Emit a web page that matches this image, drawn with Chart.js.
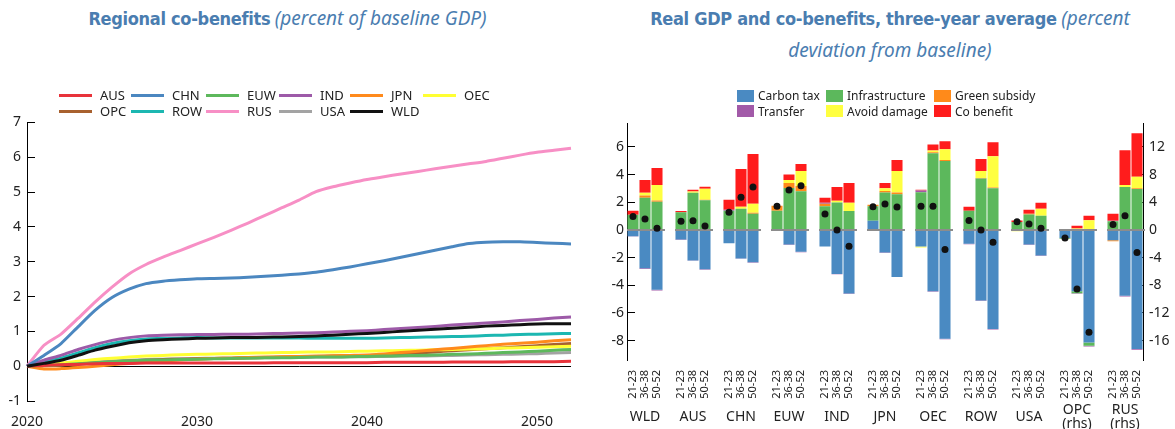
<!DOCTYPE html>
<html>
<head>
<meta charset="utf-8">
<script src="https://cdn.jsdelivr.net/npm/chart.js@4.4.1/dist/chart.umd.min.js"></script>
<style>
  body { margin:0; width:1175px; height:429px; background:#fff; position:relative; overflow:hidden; font-family:"Noto Sans", sans-serif; color:#222; }
  .title { position:absolute; top:3px; text-align:center; color:#4a7db0; line-height:30px; font-family:"DejaVu Sans Condensed","Noto Sans",sans-serif; font-stretch:condensed; }
  .title b { font-size:18px; letter-spacing:-0.3px; }
  .title i { font-size:19px; font-family:"Noto Sans",sans-serif; font-stretch:normal; }
  #t1 { left:0; width:575px; }
  #t2 { left:600px; width:580px; }
  .box { position:absolute; }
  #b1 { left:0; top:100px; width:585px; height:329px; }
  #b2 { left:585px; top:103px; width:590px; height:326px; }
  .leg { position:absolute; display:grid; line-height:15.5px; z-index:2; }
  #leg1 { left:59px; top:88px; font-size:13px; grid-template-columns:72px 75px 73px 71px 73px 72px; }
  #leg2 { left:737px; top:88px; font-size:12px; grid-template-columns:89px 108px 110px; }
  .leg span { display:flex; align-items:center; white-space:nowrap; }
  .leg i { display:inline-block; flex:none; }
</style>
</head>
<body>
<div class="title" id="t1"><b>Regional co-benefits</b> <i>(percent of baseline GDP)</i></div>
<div class="title" id="t2"><b>Real GDP and co-benefits, three-year average</b> <i>(percent<br>deviation from baseline)</i></div>
<div class="box" id="b1"><canvas id="lines"></canvas></div>
<div class="box" id="b2"><canvas id="bars"></canvas></div>
<div class="leg" id="leg1"></div>
<div class="leg" id="leg2"></div>
<script>
// ---- left panel: co-benefits by region, percent of baseline GDP
const years = [2020,2021,2022,2023,2024,2025,2026,2027,2028,2029,2030,2031,2032,2033,2034,2035,2036,
  2037,2038,2039,2040,2041,2042,2043,2044,2045,2046,2047,2048,2049,2050,2051,2052];

const AUS = [0,0.02,0.04,0.05,0.07,0.08,0.08,0.09,0.09,0.09,0.09,0.09,0.09,0.09,0.09,0.10,0.10,0.10,0.10,0.10,0.10,0.11,0.11,0.11,0.11,0.12,0.12,0.12,0.12,0.13,0.13,0.13,0.14];
const CHN = [0,0.31,0.65,1.13,1.60,1.97,2.21,2.37,2.44,2.48,2.51,2.52,2.53,2.55,2.58,2.61,2.65,2.70,2.77,2.85,2.94,3.03,3.13,3.23,3.33,3.43,3.52,3.56,3.57,3.57,3.55,3.53,3.51];
const EUW = [0,0.02,0.04,0.07,0.10,0.13,0.15,0.17,0.18,0.19,0.20,0.21,0.22,0.23,0.24,0.24,0.25,0.26,0.26,0.27,0.28,0.29,0.30,0.31,0.32,0.34,0.35,0.37,0.39,0.41,0.43,0.46,0.48];
const IND = [0,0.17,0.31,0.48,0.62,0.74,0.82,0.87,0.89,0.90,0.91,0.91,0.92,0.92,0.93,0.94,0.95,0.96,0.98,1.00,1.02,1.05,1.08,1.11,1.14,1.18,1.21,1.24,1.27,1.31,1.34,1.38,1.41];
const JPN = [0,-0.08,-0.07,-0.04,0.00,0.04,0.08,0.12,0.15,0.18,0.20,0.22,0.23,0.25,0.26,0.27,0.28,0.29,0.30,0.31,0.32,0.35,0.39,0.43,0.47,0.51,0.55,0.59,0.63,0.66,0.69,0.73,0.76];
const OEC = [0,0.04,0.09,0.14,0.19,0.23,0.26,0.29,0.31,0.33,0.34,0.35,0.36,0.37,0.38,0.39,0.40,0.41,0.41,0.42,0.43,0.44,0.45,0.46,0.47,0.48,0.49,0.50,0.52,0.53,0.54,0.56,0.57];
const OPC = [0,0.01,0.03,0.06,0.09,0.12,0.15,0.17,0.19,0.20,0.21,0.22,0.23,0.24,0.25,0.26,0.27,0.28,0.29,0.30,0.31,0.33,0.35,0.38,0.41,0.44,0.47,0.50,0.53,0.56,0.59,0.62,0.65];
const ROW = [0,0.12,0.23,0.38,0.53,0.65,0.73,0.78,0.80,0.81,0.82,0.81,0.81,0.81,0.81,0.81,0.81,0.80,0.80,0.80,0.80,0.81,0.82,0.83,0.84,0.85,0.86,0.88,0.89,0.91,0.92,0.93,0.94];
const RUS = [0,0.60,0.92,1.37,1.84,2.27,2.65,2.92,3.13,3.32,3.51,3.70,3.90,4.11,4.33,4.55,4.77,5.01,5.15,5.26,5.36,5.44,5.52,5.59,5.67,5.74,5.81,5.88,5.97,6.06,6.14,6.20,6.26];
const USA = [0,0.03,0.06,0.09,0.12,0.15,0.17,0.19,0.20,0.21,0.22,0.23,0.23,0.24,0.24,0.25,0.25,0.26,0.26,0.27,0.27,0.28,0.29,0.29,0.30,0.31,0.32,0.33,0.34,0.35,0.36,0.38,0.39];
const WLD = [0,0.08,0.17,0.31,0.46,0.57,0.67,0.73,0.76,0.78,0.80,0.81,0.82,0.82,0.83,0.84,0.85,0.87,0.89,0.92,0.94,0.97,1.00,1.03,1.06,1.09,1.12,1.15,1.17,1.19,1.21,1.22,1.22];

const lineSeries = [
  ["AUS", AUS, "#e8333b"], ["CHN", CHN, "#4b87c0"], ["EUW", EUW, "#5db85c"],
  ["IND", IND, "#9d5aa8"], ["JPN", JPN, "#ff8a1c"], ["OEC", OEC, "#ffff33"],
  ["OPC", OPC, "#a8612f"], ["ROW", ROW, "#1cb7b1"], ["RUS", RUS, "#f78fc5"],
  ["USA", USA, "#a3a3a3"], ["WLD", WLD, "#111111"]
];

// ---- right panel: three-year averages, percent deviation from baseline
const regions = ["WLD","AUS","CHN","EUW","IND","JPN","OEC","ROW","USA","OPC","RUS"];
const periods = ["21-23","36-38","50-52"];
const rhsRegions = ["OPC","RUS"];

const carbonTax = [-0.45,-2.77,-4.33, -0.70,-2.20,-2.85, -0.96,-2.06,-2.34, 0,-1.06,-1.58, -1.20,-3.18,-4.60, 0.67,-1.63,-3.40,
  -1.20,-4.43,-7.87, -1.00,-5.10,-7.16, 0,-1.06,-1.85, -1.15,-8.85,-16.27, -1.48,-9.52,-17.20];
const infrastructure = [1.10,2.32,2.03, 1.27,2.68,2.15, 1.39,1.53,1.17, 1.39,3.04,2.80, 1.72,1.99,1.36, 1.05,2.70,2.58,
  2.73,5.55,4.98, 1.39,3.71,3.01, 0.57,1.12,1.03, -0.14,-0.29,-0.48, 1.24,6.22,5.93];
const greenSubsidy = [0,0.17,0.10, 0,0,0.04, 0,0,0.07, 0.36,0.36,0.38, 0.17,0,0, 0.10,0.12,0.12,
  0,0.07,0.07, 0,0.05,0.05, 0,0.05,0, 0,0,0, -0.15,0,0.10];
const transfer = [-0.03,-0.05,-0.05, -0.02,-0.03,-0.03, 0.07,-0.03,-0.03, 0,-0.03,-0.03, 0.07,-0.03,-0.03, 0,-0.04,0,
  0.12,-0.03,-0.03, -0.03,-0.04,-0.04, 0,-0.03,-0.03, 0.10,-0.10,-0.10, 0.10,-0.10,-0.12];
const avoidDamage = [0,0.19,1.12, 0,0.10,0.79, 0,0.14,0.65, 0,0.21,1.08, 0,0.12,0.60, 0,0.19,1.56,
  -0.07,0.12,0.79, 0,0.50,2.27, -0.10,0,0.50, 0,0.19,1.39, 0,0.29,1.67];
const coBenefit = [0.29,0.93,1.22, 0.09,0.12,0.14, 0.72,2.73,3.59, -0.07,0.39,0.50, 0.36,1.00,1.44, -0.07,0.39,0.79,
  0.05,0.43,0.57, 0.28,0.86,1.00, 0.12,0.29,0.43, 0,0.43,0.67, 1.00,5.02,6.27];
const realGdp = [0.98,0.79,0.12, 0.62,0.67,0.29, 1.27,2.37,3.11, 1.72,2.89,3.20, 1.15,0,-1.17, 1.67,1.87,1.65,
  1.72,1.72,-1.41, 0.69,0,-0.89, 0.60,0.43,0.12, -1.15,-8.52,-14.78, 0.77,2.06,-3.25];

const components = [
  ["Carbon tax", carbonTax, "#4a8ac2"], ["Infrastructure", infrastructure, "#5cb85c"],
  ["Green subsidy", greenSubsidy, "#ff8a1a"], ["Transfer", transfer, "#a25aa8"],
  ["Avoid damage", avoidDamage, "#ffff40"], ["Co benefit", coBenefit, "#ff1c1c"]
];

// html legends
document.getElementById("leg1").innerHTML = lineSeries.map(([n, , c]) =>
  `<span><i style="width:33px;height:3px;background:${c};margin-right:8px"></i>${n}</span>`).join("");
document.getElementById("leg2").innerHTML = components.map(([n, , c]) =>
  `<span><i style="width:17px;height:12px;background:${c};margin-right:4px"></i>${n}</span>`).join("");

const tickFont = { family: "'Noto Sans', sans-serif", size: 14 };

// ---------- line chart
new Chart(document.getElementById("lines"), {
  type: "line",
  data: {
    labels: years,
    datasets: lineSeries.map(([n, d, c]) => ({
      label: n, data: d, borderColor: c, backgroundColor: c,
      borderWidth: 3, pointRadius: 0, tension: 0.2,
      order: n === "WLD" ? -1 : 0
    }))
  },
  options: {
    responsive: true, maintainAspectRatio: false, animation: false,
    layout: { padding: { top: 0, right: 14 } },
    plugins: { legend: { display: false }, tooltip: { enabled: false } },
    scales: {
      x: {
        grid: { display: false }, border: { display: false },
        ticks: {
          autoSkip: false, maxRotation: 0, color: "#222", font: tickFont, padding: 5,
          callback: (v, i) => years[i] % 10 === 0 ? String(years[i]) : ""
        },
        afterFit: s => { s.height = 28; }
      },
      y: {
        min: -1, max: 7,
        ticks: { stepSize: 1, color: "#222", font: tickFont, padding: 14 },
        grid: {
          color: ctx => ctx.tick && ctx.tick.value === 0 ? "#000" : "rgba(0,0,0,0)",
          tickColor: "#000", tickLength: -8
        },
        border: { color: "#000" },
        afterFit: s => { s.width = 27; }
      }
    }
  }
});

// ---------- stacked bar chart
// slots: 3 periods per region, one empty slot between regions
const slotLabels = [], groupLabels = [], slotRegion = [], slotIndex = [];
regions.forEach((r, g) => {
  periods.forEach((p, k) => {
    slotLabels.push(p);
    groupLabels.push(k === 1 ? (rhsRegions.includes(r) ? [r, "(rhs)"] : r) : "");
    slotRegion.push(r);
    slotIndex.push(g * 3 + k);
  });
  if (g < regions.length - 1) {
    slotLabels.push(""); groupLabels.push(""); slotRegion.push(null); slotIndex.push(null);
  }
});

const pick = (vals, rhs) => slotIndex.map((i, s) =>
  i === null ? null : (rhsRegions.includes(slotRegion[s]) === rhs ? vals[i] : null));

const barSets = [];
[false, true].forEach(rhs => {
  components.forEach(([n, vals, c]) => {
    barSets.push({
      type: "bar", label: n, data: pick(vals, rhs), backgroundColor: c,
      borderWidth: 0, yAxisID: rhs ? "y2" : "y", order: 1,
      categoryPercentage: 1, barPercentage: 0.92
    });
  });
  barSets.push({
    type: "line", label: "Real GDP", data: pick(realGdp, rhs), showLine: false,
    pointRadius: 3.5, pointBackgroundColor: "#111", pointBorderWidth: 0,
    yAxisID: rhs ? "y2" : "y", order: 0
  });
});

const zeroLines = {
  id: "zeroLines",
  beforeDatasetsDraw(chart) { chart.$zeroDone = false; },
  beforeDatasetDraw(chart, args) {
    if (chart.$zeroDone || args.meta.type !== "line") return;
    chart.$zeroDone = true;
    const x = chart.scales.x, ctx = chart.ctx;
    ctx.save();
    ctx.strokeStyle = "#8c8c8c";
    ctx.lineWidth = 2;
    regions.forEach((r, g) => {
      const ys = rhsRegions.includes(r) ? chart.scales.y2 : chart.scales.y;
      const y0 = ys.getPixelForValue(0);
      ctx.beginPath();
      ctx.moveTo(x.getPixelForValue(g * 4) - 6, y0);
      ctx.lineTo(x.getPixelForValue(g * 4 + 2) + 8, y0);
      ctx.stroke();
    });
    ctx.restore();
  }
};

new Chart(document.getElementById("bars"), {
  type: "bar",
  data: { labels: slotLabels, datasets: barSets },
  plugins: [zeroLines],
  options: {
    responsive: true, maintainAspectRatio: false, animation: false,
    layout: { padding: { top: 0 } },
    plugins: { legend: { display: false }, tooltip: { enabled: false } },
    scales: {
      x: {
        stacked: true, offset: true,
        grid: { display: false }, border: { display: false },
        ticks: { autoSkip: false, minRotation: 90, maxRotation: 90, padding: 2, color: "#222",
          font: { family: "'Noto Sans', sans-serif", size: 11 } },
        afterFit: s => { s.height = 42; }
      },
      x2: {
        type: "category", position: "bottom", weight: 1, offset: true,
        labels: groupLabels,
        grid: { display: false }, border: { display: false },
        ticks: { autoSkip: false, maxRotation: 0, padding: 0, crossAlign: "center", color: "#222",
          font: { family: "'Noto Sans', sans-serif", size: 14, lineHeight: 1.0 } },
        afterFit: s => { s.height = 27; }
      },
      y: {
        stacked: true, position: "left", min: -9.4, max: 7.7, z: 1,
        ticks: { stepSize: 2, includeBounds: false, color: "#222", font: tickFont, padding: 11 },
        grid: { drawOnChartArea: false, tickColor: "#000", tickLength: -8 },
        border: { color: "#000" },
        afterFit: s => { s.width = 42; }
      },
      y2: {
        stacked: true, position: "right", min: -18.8, max: 15.4, z: 1,
        ticks: { stepSize: 4, includeBounds: false, color: "#222", font: tickFont, padding: 12 },
        grid: { drawOnChartArea: false, tickColor: "#000", tickLength: -6 },
        border: { color: "#000" },
        afterFit: s => { s.width = 32; }
      }
    }
  }
});
</script>
</body>
</html>
